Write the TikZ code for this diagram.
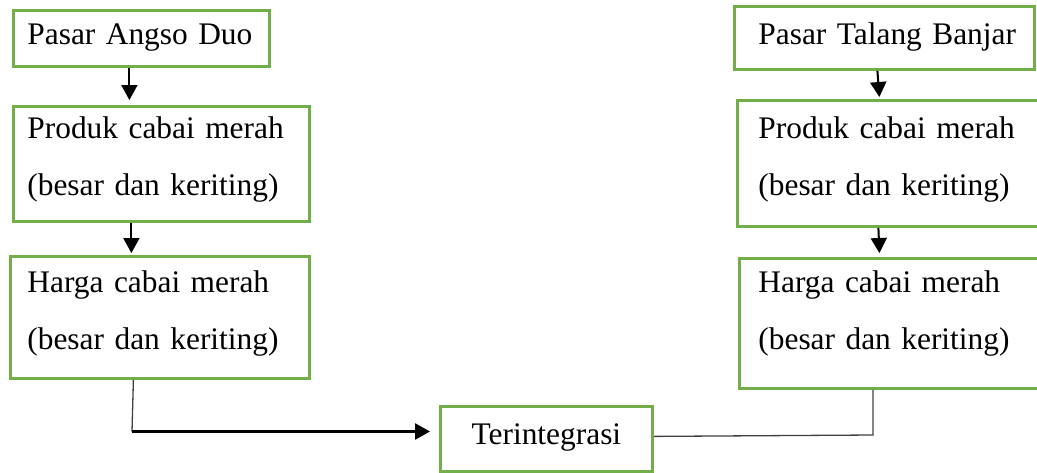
\documentclass[tikz,border=0pt]{standalone}
\usepackage{fontspec}
\setmainfont{Liberation Serif}
\usetikzlibrary{arrows.meta}
\definecolor{boxgreen}{HTML}{72AF4A}
\definecolor{linegray}{HTML}{404040}
\tikzset{
  box/.style={draw=boxgreen, line width=2.8pt, rectangle, anchor=north west,
    inner ysep=0pt, align=left, text=black,
    font=\fontsize{31.4}{57}\selectfont},
  arr/.style={draw=black, line width=2pt, -{Triangle[length=15pt,width=16pt]}},
  thinline/.style={draw=linegray, line width=1.3pt},
}
\begin{document}
\begin{tikzpicture}[x=1pt,y=-1pt]
\useasboundingbox (0,0) rectangle (1037,472);
\clip (0,0) rectangle (1037,472);
% left column
\node[box, inner xsep=14pt, text width=228pt, text height=33.7pt, text depth=22.3pt] (A1) at (12,9) {\mbox{Pasar Angso Duo}};
\node[box, inner xsep=14pt, text width=268pt, text height=32pt, text depth=83pt] (A2) at (12,105) {\mbox{Produk cabai merah}\\\mbox{(besar dan keriting)}};
\node[box, inner xsep=17pt, text width=265pt, text height=36pt, text depth=86pt] (A3) at (9,255) {\mbox{Harga cabai merah}\\\mbox{(besar dan keriting)}};
% right column
\node[box, inner xsep=24pt, text width=252pt, text height=37.7pt, text depth=25.3pt] (B1) at (733,5) {\mbox{Pasar Talang Banjar}};
\node[box, inner xsep=21pt, text width=272pt, text height=37.7pt, text depth=88.3pt] (B2) at (736,99) {\mbox{Produk cabai merah}\\\mbox{(besar dan keriting)}};
\node[box, inner xsep=19pt, text width=274pt, text height=34pt, text depth=96pt] (B3) at (738,257) {\mbox{Harga cabai merah}\\\mbox{(besar dan keriting)}};
% bottom
\node[box, inner xsep=0pt, text width=212pt, align=center, text height=38pt, text depth=27pt] (T) at (439,405) {\mbox{Terintegrasi}};
% connectors
\draw[arr] ([xshift=-12pt]A1.south) -- ([xshift=-32pt,yshift=5pt]A2.north);
\draw[arr] ([xshift=-30pt]A2.south) -- ([xshift=-28.5pt,yshift=2pt]A3.north);
\draw[arr] ([xshift=-7pt]B1.south) -- ([xshift=-15pt,yshift=2pt]B2.north);
\draw[arr] ([xshift=-16pt]B2.south) -- ([xshift=-16pt,yshift=4pt]B3.north);
\coordinate (c1) at (132,431.5);
\draw[thinline] ([xshift=-26.5pt]A3.south) -- (c1);
\draw[arr, line width=2.5pt, shorten >=9pt] (c1) -- (c1 -| T.west);
\coordinate (c2) at (873,435);
\draw[thinline] ([yshift=2.5pt]T.east) -- (c2) -- (c2 |- B3.south);
\end{tikzpicture}
\end{document}
